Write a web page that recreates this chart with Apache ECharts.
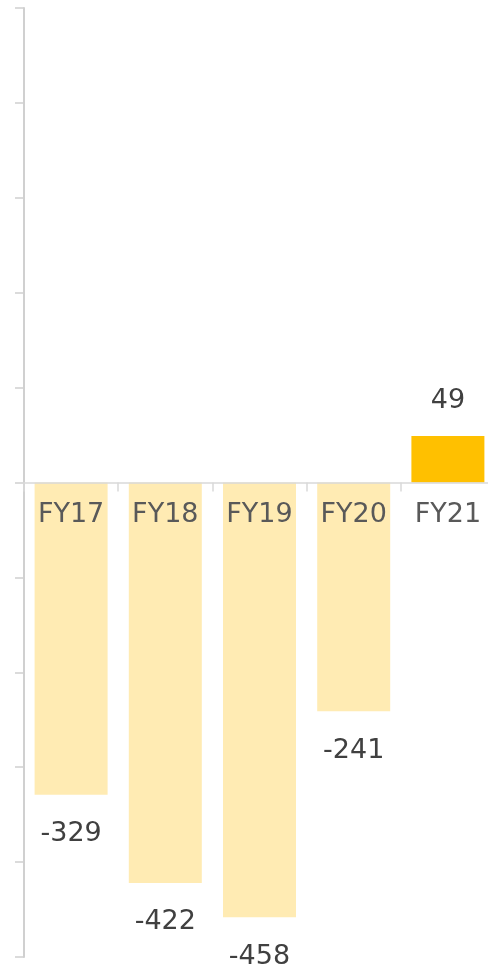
<!DOCTYPE html>
<html>
<head>
<meta charset="utf-8">
<script src="https://cdn.jsdelivr.net/npm/echarts@6/dist/echarts.min.js"></script>
<style>
  html, body { margin: 0; padding: 0; background: #ffffff; }
  #chart { width: 488px; height: 970px; }
</style>
</head>
<body>
<div id="chart"></div>
<script>
// Fiscal years and their results
const categories = ['FY17', 'FY18', 'FY19', 'FY20', 'FY21'];
const values = [-329, -422, -458, -241, 49];

// Value axis range and step
const axisMin = -500;
const axisMax = 500;
const axisStep = 100;

const FONT = '"DejaVu Sans", Verdana, sans-serif';
const POS_COLOR = '#FFC000';
const NEG_COLOR = '#FFEBB3';

const chart = echarts.init(document.getElementById('chart'), null, { renderer: 'canvas' });

const barData = values.map(v => ({
  value: v,
  itemStyle: { color: v >= 0 ? POS_COLOR : NEG_COLOR },
  label: { position: v >= 0 ? 'top' : 'bottom', distance: v >= 0 ? 22 : 26 }
}));

// Category names sit just under the zero line
const nameData = categories.map(c => [c, 0]);

chart.setOption({
  animation: false,
  backgroundColor: '#ffffff',
  grid: { left: 24, top: 8, bottom: 13, width: 471, containLabel: false, outerBoundsMode: 'none' },
  xAxis: {
    type: 'category',
    data: categories,
    axisLine: { onZero: true, lineStyle: { color: '#d9d9d9', width: 1.5 } },
    axisTick: { show: true, length: 9, lineStyle: { color: '#d9d9d9', width: 1.5 } },
    axisLabel: { show: false },
    splitLine: { show: false },
    z: 5
  },
  yAxis: {
    type: 'value',
    min: axisMin,
    max: axisMax,
    interval: axisStep,
    axisLine: { show: true, lineStyle: { color: '#d0d0d0', width: 2 } },
    axisTick: { show: true, length: 9, lineStyle: { color: '#d0d0d0', width: 1.5 } },
    axisLabel: { show: false },
    splitLine: { show: false }
  },
  series: [{
    type: 'bar',
    data: barData,
    barWidth: 73,
    label: {
      show: true,
      color: '#404040',
      fontSize: 27,
      fontFamily: FONT
    }
  }, {
    type: 'scatter',
    data: nameData,
    symbolSize: 0,
    silent: true,
    z: 10,
    itemStyle: { opacity: 1 },
    label: {
      show: true,
      position: 'bottom',
      distance: 19,
      color: '#595959',
      opacity: 1,
      fontSize: 27,
      fontFamily: FONT,
      formatter: p => p.value[0]
    }
  }]
});
</script>
</body>
</html>
